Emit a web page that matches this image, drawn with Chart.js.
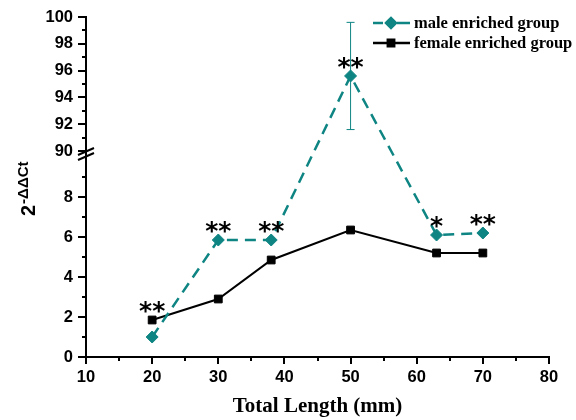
<!DOCTYPE html>
<html>
<head>
<meta charset="utf-8">
<script src="https://cdn.jsdelivr.net/npm/chart.js@4.4.0/dist/chart.umd.min.js"></script>
<style>
  html, body { margin: 0; padding: 0; background: #fff; }
  #wrap { width: 576px; height: 420px; }
</style>
</head>
<body>
<div id="wrap"><canvas id="chart"></canvas></div>
<script>
// values
const lengths = [20, 30, 38, 50, 63, 70];
const maleValues = [1.0, 5.85, 5.85, 95.6, 6.1, 6.2];
const maleErrors = [0, 0, 0, 4.0, 0, 0];
const femaleValues = [1.85, 2.9, 4.85, 6.35, 5.2, 5.2];
const significance = ['**', '**', '**', '**', '*', '**'];
const seriesNames = ['male enriched group', 'female enriched group'];
const yTickValues = [0, 2, 4, 6, 8, 90, 92, 94, 96, 98, 100];
const yMinorValues = [1, 3, 5, 7, 9, 91, 93, 95, 97, 99];
const xMinorValues = [15, 25, 35, 45, 55, 65, 75];

const TEAL = '#0e8583';

// broken y axis: 0..10.3 below the break, 90..100 above it
const LOW_TOP = 10.3, HIGH_BOTTOM = 90, HIGH_TOP = 100, LOW_SHARE = 206 / 340;

class BrokenLinearScale extends Chart.LinearScale {
  buildTicks() {
    this.start = this.min;
    this.end = this.max;
    return yTickValues.map(v => ({ value: v }));
  }
  splitPixel() {
    return this.bottom - (this.bottom - this.top) * LOW_SHARE;
  }
  getPixelForValue(value) {
    const split = this.splitPixel();
    if (value <= LOW_TOP) return this.bottom - value / LOW_TOP * (this.bottom - split);
    const v = Math.max(value, HIGH_BOTTOM);
    return split - (v - HIGH_BOTTOM) / (HIGH_TOP - HIGH_BOTTOM) * (split - this.top);
  }
  getValueForPixel(pixel) {
    const split = this.splitPixel();
    if (pixel >= split) return (this.bottom - pixel) / (this.bottom - split) * LOW_TOP;
    return HIGH_BOTTOM + (split - pixel) / (split - this.top) * (HIGH_TOP - HIGH_BOTTOM);
  }
}
BrokenLinearScale.id = 'brokenLinear';
BrokenLinearScale.defaults = Chart.LinearScale.defaults;
Chart.register(BrokenLinearScale);

const extras = {
  id: 'extras',
  afterDatasetsDraw(chart) {
    const ctx = chart.ctx;
    const xs = chart.scales.x, ys = chart.scales.y;
    const area = chart.chartArea;
    ctx.save();

    // error bars
    ctx.strokeStyle = TEAL;
    ctx.lineWidth = 1;
    lengths.forEach((len, i) => {
      if (!maleErrors[i]) return;
      const x = xs.getPixelForValue(len);
      const yTop = ys.getPixelForValue(maleValues[i] + maleErrors[i]);
      const yBot = ys.getPixelForValue(maleValues[i] - maleErrors[i]);
      ctx.beginPath();
      ctx.moveTo(x, yTop); ctx.lineTo(x, yBot);
      ctx.moveTo(x - 4, yTop); ctx.lineTo(x + 4, yTop);
      ctx.moveTo(x - 4, yBot); ctx.lineTo(x + 4, yBot);
      ctx.stroke();
    });

    // significance stars
    ctx.fillStyle = '#000';
    ctx.font = 'bold 25px "DejaVu Sans"';
    ctx.textAlign = 'center';
    ctx.textBaseline = 'alphabetic';
    lengths.forEach((len, i) => {
      const x = xs.getPixelForValue(len);
      const top = Math.min(ys.getPixelForValue(maleValues[i]), ys.getPixelForValue(femaleValues[i]));
      const m = ctx.measureText(significance[i]);
      const centre = top - 13;
      const base = centre + (m.actualBoundingBoxAscent - m.actualBoundingBoxDescent) / 2;
      ctx.fillText(significance[i], x, base);
    });

    // minor ticks
    ctx.strokeStyle = '#000';
    ctx.lineWidth = 2;
    ctx.beginPath();
    yMinorValues.forEach(v => {
      const y = Math.round(ys.getPixelForValue(v));
      ctx.moveTo(area.left - 4, y); ctx.lineTo(area.left, y);
    });
    xMinorValues.forEach(v => {
      const x = Math.round(xs.getPixelForValue(v));
      ctx.moveTo(x, area.bottom); ctx.lineTo(x, area.bottom + 4);
    });
    ctx.stroke();

    // axis break marks
    const c = ys.splitPixel() + 3;
    ctx.beginPath();
    [-2.5, 2.5].forEach(off => {
      ctx.moveTo(area.left - 8, c + off + 3.5);
      ctx.lineTo(area.left + 8, c + off - 3.5);
    });
    ctx.stroke();

    // legend
    const rows = [23, 43];
    chart.data.datasets.forEach((ds, i) => {
      const y = rows[i];
      ctx.strokeStyle = ds.borderColor;
      ctx.lineWidth = 2.5;
      ctx.beginPath();
      if (ds.borderDash) {
        ctx.moveTo(373, y); ctx.lineTo(383, y);
        ctx.moveTo(397, y); ctx.lineTo(410, y);
      } else {
        ctx.moveTo(373, y); ctx.lineTo(410, y);
      }
      ctx.stroke();
      Chart.helpers.drawPoint(ctx, {
        pointStyle: ds.pointStyle, radius: ds.pointRadius - 1, borderWidth: 1
      }, 391, y);
      ctx.fillStyle = ds.borderColor;
      ctx.fill();
      ctx.fillStyle = '#000';
      ctx.font = 'bold 16.5px "Liberation Serif"';
      ctx.textAlign = 'left';
      ctx.textBaseline = 'middle';
      ctx.fillText(ds.label, 414, y + 1);
    });

    // x title
    ctx.fillStyle = '#000';
    ctx.font = 'bold 21px "Liberation Serif"';
    ctx.textAlign = 'center';
    ctx.textBaseline = 'alphabetic';
    ctx.fillText('Total Length (mm)', (area.left + area.right) / 2, 412);

    // y title 2^-ΔΔCt
    ctx.translate(35, 216);
    ctx.rotate(-Math.PI / 2);
    ctx.textAlign = 'left';
    ctx.font = 'bold 20px "Liberation Sans"';
    ctx.fillText('2', 0, 0);
    const w2 = ctx.measureText('2').width;
    ctx.font = 'bold 15px "Liberation Sans"';
    ctx.fillText('-\u0394\u0394Ct', w2 + 1, -7);

    ctx.restore();
  }
};

new Chart(document.getElementById('chart'), {
  type: 'line',
  data: {
    datasets: [
      {
        label: seriesNames[0],
        data: lengths.map((x, i) => ({ x, y: maleValues[i] })),
        borderColor: TEAL,
        backgroundColor: TEAL,
        borderWidth: 2.5,
        borderDash: [11, 7],
        pointStyle: 'rectRot',
        pointRadius: 6,
        pointBorderWidth: 1,
        pointBorderColor: TEAL,
        pointBackgroundColor: TEAL,
        tension: 0
      },
      {
        label: seriesNames[1],
        data: lengths.map((x, i) => ({ x, y: femaleValues[i] })),
        borderColor: '#000',
        backgroundColor: '#000',
        borderWidth: 2,
        pointStyle: 'rect',
        pointRadius: 5.5,
        pointBorderWidth: 1,
        pointBorderColor: '#000',
        pointBackgroundColor: '#000',
        tension: 0
      }
    ]
  },
  options: {
    responsive: true,
    maintainAspectRatio: false,
    animation: false,
    layout: { padding: { top: 17, right: 27, left: 0, bottom: 0 } },
    plugins: {
      legend: { display: false },
      tooltip: { enabled: false }
    },
    scales: {
      x: {
        type: 'linear',
        min: 10,
        max: 80,
        afterFit: s => { s.height = 63; },
        ticks: {
          stepSize: 10,
          color: '#000',
          padding: 4,
          font: { family: '"Liberation Sans"', size: 16.5, weight: 'bold' }
        },
        grid: { drawOnChartArea: false, tickLength: 7, lineWidth: 2, color: '#000' },
        border: { color: '#000', width: 2 }
      },
      y: {
        type: 'brokenLinear',
        min: 0,
        max: 100,
        afterFit: s => { s.width = 86; },
        ticks: {
          autoSkip: false,
          color: '#000',
          padding: 5,
          font: { family: '"Liberation Sans"', size: 16.5, weight: 'bold' }
        },
        grid: { drawOnChartArea: false, tickLength: 8, lineWidth: 2, color: '#000' },
        border: { color: '#000', width: 2 }
      }
    }
  },
  plugins: [extras]
});
</script>
</body>
</html>
